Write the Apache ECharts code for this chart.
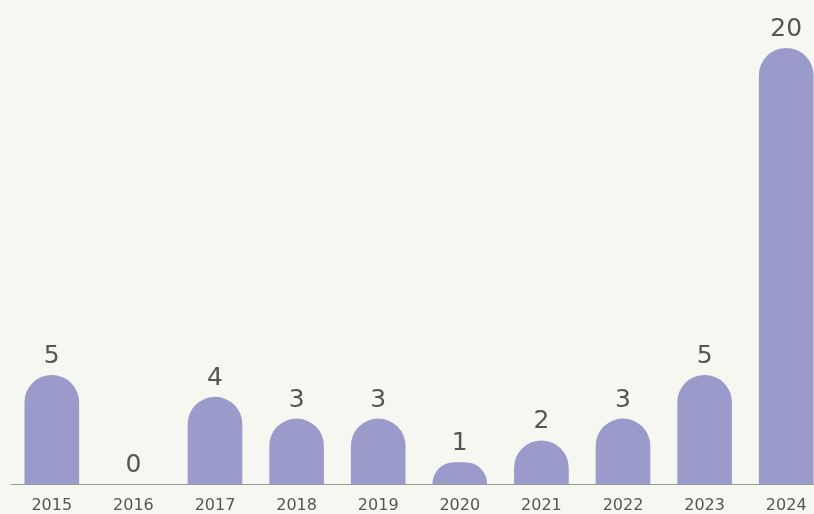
<!DOCTYPE html>
<html><head><meta charset="utf-8">
<script src="https://cdn.jsdelivr.net/npm/echarts@6/dist/echarts.min.js"></script>
<style>html,body{margin:0;padding:0;background:#f7f7f2;overflow:hidden;width:814px;height:514px;}#c{width:830px;height:514px;}</style>
</head><body><div id="c"></div>
<script>
const categories = ['2015','2016','2017','2018','2019','2020','2021','2022','2023','2024'];
const values = [5,0,4,3,3,1,2,3,5,20];
const chart = echarts.init(document.getElementById('c'));
chart.setOption({
  backgroundColor:'#f7f7f2',
  animation:false,
  grid:{left:11,right:3,top:48,bottom:30,containLabel:false},
  xAxis:{type:'category',data:categories,
    axisLine:{lineStyle:{color:'#999',width:1}},
    axisTick:{show:false},
    axisLabel:{color:'#555',fontSize:16,fontFamily:'DejaVu Sans',margin:14}},
  yAxis:{type:'value',min:0,max:20,show:false,splitLine:{show:false}},
  series:[{type:'bar',data:values,barWidth:'67%',
    itemStyle:{color:'#9b9bcb',borderRadius:[28,28,0,0]},
    label:{show:true,position:'top',color:'#555',fontSize:25,fontFamily:'DejaVu Sans',distance:6}}]
});
</script></body></html>
